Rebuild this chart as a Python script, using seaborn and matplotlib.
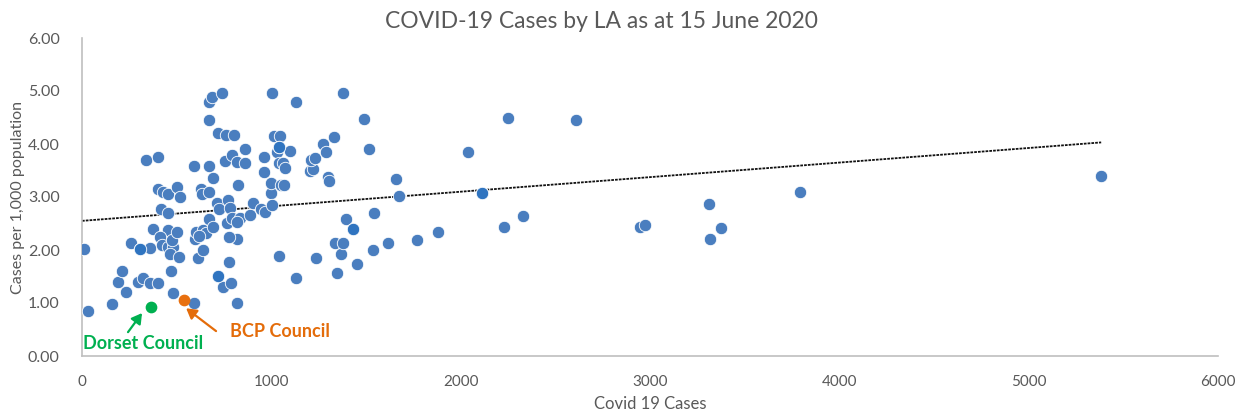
import numpy as np
import pandas as pd
import seaborn as sns
import matplotlib.pyplot as plt

# Covid cases per local authority
cases = [11, 32, 158, 190, 211, 232, 259, 296, 306, 322, 338, 359, 359, 375, 401,
         401, 401, 417, 428, 454, 454, 454, 412, 423, 454, 481, 475, 502, 465, 470,
         481, 502, 512, 518, 592, 592, 597, 602, 613, 629, 634, 640, 640, 655, 671,
         671, 671, 671, 687, 671, 692, 692, 718, 718, 713, 724, 740, 745, 761, 755,
         771, 766, 777, 782, 787, 792, 792, 803, 819, 819, 819, 777, 824, 835, 861,
         861, 887, 903, 946, 967, 962, 962, 998, 998, 1004, 1004, 1014, 1046, 1030,
         1041, 1041, 1041, 1051, 1067, 1062, 1072, 1099, 1130, 1130, 1236, 1204, 1220,
         1210, 1231, 1273, 1289, 1300, 1305, 1331, 1337, 1347, 1368, 1379, 1379, 1395,
         1432, 1453, 1490, 1516, 1538, 1543, 1617, 1659, 1675, 1770, 1881, 2039, 2113,
         2229, 2250, 2330, 2610, 2948, 2974, 3312, 3376, 3317, 3793, 5383, 819, 620]
rate = [2.02, 0.85, 0.98, 1.40, 1.60, 1.21, 2.13, 1.40, 2.02, 1.47, 3.70, 2.04, 1.38,
        2.40, 3.75, 1.38, 3.15, 2.77, 3.09, 3.06, 2.70, 2.38, 2.25, 2.09, 2.06, 2.06,
        2.19, 2.34, 1.92, 1.60, 1.19, 3.19, 1.87, 3.00, 3.58, 1.00, 2.21, 2.34, 1.85,
        3.15, 3.06, 2.38, 2.00, 2.32, 3.58, 2.58, 4.45, 4.79, 4.89, 3.09, 3.36, 2.43,
        1.51, 4.21, 2.89, 2.77, 4.96, 1.30, 4.17, 3.68, 2.94, 2.51, 1.77, 2.79, 1.38,
        3.79, 2.60, 4.17, 1.00, 2.21, 3.66, 2.25, 3.23, 2.60, 3.64, 3.91, 2.66, 2.89,
        2.77, 2.72, 3.75, 3.47, 3.08, 3.26, 4.96, 2.85, 4.15, 4.15, 3.85, 3.94, 3.64,
        1.89, 3.23, 3.23, 3.64, 3.55, 3.87, 4.79, 1.47, 1.85, 3.49, 3.53, 3.70, 3.74,
        4.00, 3.85, 3.38, 3.30, 4.13, 2.13, 1.57, 1.92, 4.96, 2.13, 2.58, 2.40, 1.74,
        4.47, 3.91, 2.00, 2.70, 2.13, 3.34, 3.02, 2.19, 2.34, 3.85, 3.08, 2.43, 4.49,
        2.64, 4.45, 2.43, 2.47, 2.87, 2.42, 2.21, 3.09, 3.40, 2.53, 2.27]

# points that overlap (shown slightly darker in the original)
overlap_cases = [306, 718, 1041, 1432, 2113]
overlap_rate = [2.02, 1.51, 3.94, 2.40, 3.08]

# highlighted councils
dorset_cases, dorset_rate = 365, 0.93
bcp_cases, bcp_rate = 539, 1.06

# linear trendline as drawn in the chart
trend_cases = [0, 5383]
trend_rate = [2.55, 4.03]

df = pd.DataFrame({'cases': cases, 'rate': rate})

sns.set_style('white')
plt.rcParams['font.family'] = ['Lato', 'DejaVu Sans']

fig = plt.figure(figsize=(12.38, 4.13), dpi=100)
ax = fig.add_axes([82 / 1238, 57 / 413, 1136 / 1238, 318 / 413])

blue = '#4A7EBF'
sns.scatterplot(data=df, x='cases', y='rate', ax=ax, color=blue, s=80,
                edgecolor='white', linewidth=0.6, zorder=3)
ax.scatter(overlap_cases, overlap_rate, color='#2F74C0', s=80,
           edgecolor='white', linewidth=0.6, zorder=4)
ax.scatter([dorset_cases], [dorset_rate], color='#00B050', s=55, zorder=5)
ax.scatter([bcp_cases], [bcp_rate], color='#E8700F', s=55, zorder=5)

ax.plot(trend_cases, trend_rate, color='#111111', lw=1.3,
        ls=(0, (1.5, 0.6)), zorder=2)

arrow_kw = dict(arrowstyle='-|>,head_length=0.6,head_width=0.35', lw=1.6,
                shrinkA=0, shrinkB=0)
ax.annotate('Dorset Council', xy=(5, 0.245), color='#00B050', fontsize=13,
            fontweight='bold', va='center', ha='left', zorder=6)
ax.annotate('', xy=(317, 0.81), xytext=(243, 0.45),
            arrowprops=dict(color='#00B050', **arrow_kw))
ax.annotate('BCP Council', xy=(782, 0.46), color='#E46C0A', fontsize=13,
            fontweight='bold', va='center', ha='left', zorder=6)
ax.annotate('', xy=(550, 0.9), xytext=(708, 0.47),
            arrowprops=dict(color='#E46C0A', **arrow_kw))

ax.set_xlim(0, 6000)
ax.set_ylim(0, 6)
ax.set_xticks(np.arange(0, 6001, 1000))
ax.set_yticks(np.arange(0, 6.01, 1))
ax.set_yticklabels([f'{v:.2f}' for v in np.arange(0, 6.01, 1)])
ax.tick_params(axis='x', labelsize=11, colors='#595959', length=0, pad=14)
ax.tick_params(axis='y', labelsize=11.5, colors='#595959', length=0, pad=16)

for side in ['top', 'right']:
    ax.spines[side].set_visible(False)
for side in ['left', 'bottom']:
    ax.spines[side].set_color('#BFBFBF')
    ax.spines[side].set_linewidth(1.2)

ax.set_xlabel('Covid 19 Cases', fontsize=12, color='#595959', labelpad=5)
ax.set_ylabel('Cases per 1,000 population', fontsize=11.5, color='#595959',
              labelpad=2)

fig.text(601 / 1238, 1 - 22 / 413, 'COVID-19 Cases by LA as at 15 June 2020',
         ha='center', va='center', fontsize=16.5, color='#595959')

fig.savefig('out.png', dpi=100)
